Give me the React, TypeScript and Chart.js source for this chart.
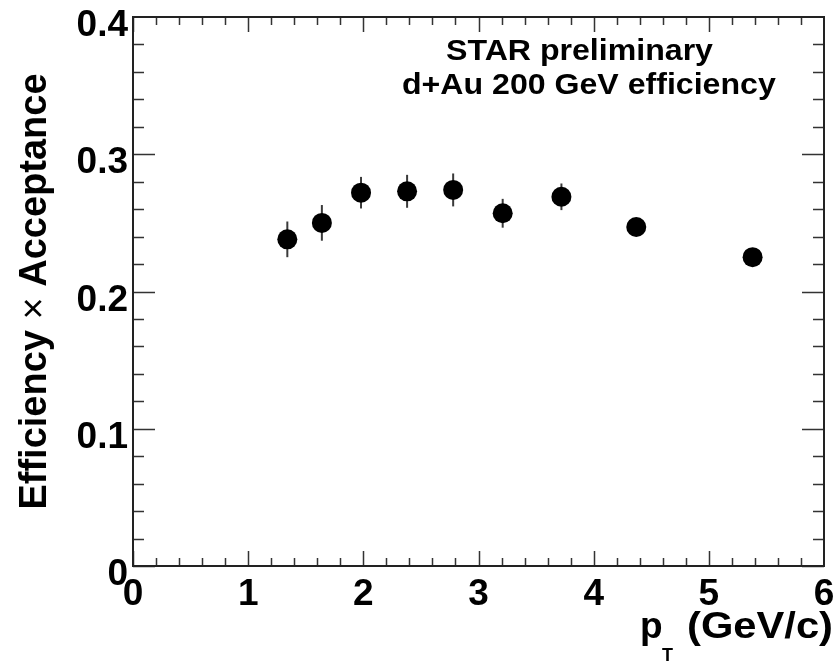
import React, { useEffect, useRef } from 'react';
import { Chart, registerables } from 'chart.js';

Chart.register(...registerables);

// ---- data ----
const ptValues = [1.34, 1.64, 1.98, 2.38, 2.78, 3.21, 3.72, 4.37, 5.38];
const effValues = [0.238, 0.250, 0.272, 0.273, 0.274, 0.257, 0.269, 0.247, 0.225];
const effErrors = [0.013, 0.013, 0.0115, 0.012, 0.012, 0.0105, 0.0097, 0.006, 0.005];

const xTickValues = [0, 1, 2, 3, 4, 5, 6];
const yTickValues = [0, 0.1, 0.2, 0.3, 0.4];
const xMinorDivisions = 5;
const yMinorDivisions = 5;

const annotationLines = ['STAR preliminary', 'd+Au 200 GeV efficiency'];
const yTitleParts = ['Efficiency ', '\u00d7', ' Acceptance'];
const xTitleMain = 'p';
const xTitleSub = 'T';
const xTitleUnit = '(GeV/c)';

const FONT = "'Liberation Sans', Arial, Helvetica, sans-serif";

const errorBarPlugin = {
  id: 'errorBars',
  beforeDatasetsDraw(chart: any) {
    const xs = chart.scales.x;
    const ys = chart.scales.y;
    const ctx = chart.ctx;
    ctx.save();
    ctx.strokeStyle = '#3a3a3a';
    ctx.lineWidth = 2;
    for (let i = 0; i < ptValues.length; i++) {
      const x = xs.getPixelForValue(ptValues[i]);
      const y1 = ys.getPixelForValue(effValues[i] - effErrors[i]);
      const y2 = ys.getPixelForValue(effValues[i] + effErrors[i]);
      ctx.beginPath();
      ctx.moveTo(x, y1);
      ctx.lineTo(x, y2);
      ctx.stroke();
    }
    ctx.restore();
  },
};

const framePlugin = {
  id: 'frameTicks',
  afterDatasetsDraw(chart: any) {
    const { ctx, chartArea } = chart;
    const xs = chart.scales.x;
    const ys = chart.scales.y;
    const { left, right, top, bottom } = chartArea;
    ctx.save();
    ctx.strokeStyle = '#333';
    ctx.lineWidth = 1.5;
    const xMajorLen = 15, xMinorLen = 8, yMajorLen = 22, yMinorLen = 11;
    for (let k = 0; k < xTickValues.length - 1; k++) {
      const a = xTickValues[k], b = xTickValues[k + 1];
      for (let j = 0; j < xMinorDivisions; j++) {
        const v = a + ((b - a) * j) / xMinorDivisions;
        const px = Math.round(xs.getPixelForValue(v)) + 0.5;
        const len = j === 0 ? xMajorLen : xMinorLen;
        ctx.beginPath();
        ctx.moveTo(px, bottom);
        ctx.lineTo(px, bottom - len);
        ctx.moveTo(px, top);
        ctx.lineTo(px, top + len);
        ctx.stroke();
      }
    }
    for (let k = 0; k < yTickValues.length - 1; k++) {
      const a = yTickValues[k], b = yTickValues[k + 1];
      for (let j = 0; j < yMinorDivisions; j++) {
        const v = a + ((b - a) * j) / yMinorDivisions;
        const py = Math.round(ys.getPixelForValue(v)) + 0.5;
        const len = j === 0 ? yMajorLen : yMinorLen;
        ctx.beginPath();
        ctx.moveTo(left, py);
        ctx.lineTo(left + len, py);
        ctx.moveTo(right, py);
        ctx.lineTo(right - len, py);
        ctx.stroke();
      }
    }
    ctx.strokeStyle = '#222';
    ctx.lineWidth = 2;
    ctx.strokeRect(left, top, right - left, bottom - top);
    ctx.restore();
  },
  afterDraw(chart: any) {
    const { ctx, chartArea } = chart;
    ctx.save();
    ctx.fillStyle = '#000';
    ctx.textBaseline = 'alphabetic';
    // annotation text
    ctx.font = `bold 30px ${FONT}`;
    const annotationLeft = [446, 402];
    const annotationBase = [60, 94];
    annotationLines.forEach((t, i) => {
      ctx.save();
      ctx.translate(annotationLeft[i], annotationBase[i]);
      ctx.scale(1.07, 1);
      ctx.textAlign = 'left';
      ctx.fillText(t, 0, 0);
      ctx.restore();
    });

    // y title (rotated)
    const yFonts = [`bold 38px ${FONT}`, `38px ${FONT}`, `bold 38px ${FONT}`];
    const widths = yTitleParts.map((p, i) => {
      ctx.font = yFonts[i];
      return ctx.measureText(p).width;
    });
    const total = widths.reduce((s, w) => s + w, 0);
    const cy = (chartArea.top + chartArea.bottom) / 2;
    ctx.save();
    ctx.translate(46, cy);
    ctx.rotate(-Math.PI / 2);
    let x0 = -total / 2;
    yTitleParts.forEach((p, i) => {
      ctx.font = yFonts[i];
      ctx.textAlign = 'left';
      ctx.fillText(p, x0, 0);
      x0 += widths[i];
    });
    ctx.restore();

    // x title
    ctx.textAlign = 'left';
    ctx.font = `bold 37px ${FONT}`;
    ctx.fillText(xTitleMain, 640, 638);
    ctx.font = `bold 18px ${FONT}`;
    ctx.fillText(xTitleSub, 662, 661);
    ctx.font = `bold 37px ${FONT}`;
    const uw = ctx.measureText(xTitleUnit).width;
    const unitLeft = 687, unitRight = 833;
    ctx.save();
    ctx.translate(unitLeft, 638);
    ctx.scale((unitRight - unitLeft) / uw, 1);
    ctx.fillText(xTitleUnit, 0, 0);
    ctx.restore();
    ctx.restore();
  },
};

export default function App() {
  const canvasRef = useRef<HTMLCanvasElement | null>(null);

  useEffect(() => {
    const canvas = canvasRef.current;
    if (!canvas) return;
    const tickFont = { family: FONT, weight: 'bold' as const, size: 37 };
    const chart = new Chart(canvas, {
      type: 'scatter',
      data: {
        datasets: [
          {
            data: ptValues.map((x, i) => ({ x, y: effValues[i] })),
            backgroundColor: '#000',
            borderColor: '#000',
            borderWidth: 0,
            pointRadius: 10,
            pointHoverRadius: 10,
            pointStyle: 'circle',
            showLine: false,
          },
        ],
      },
      options: {
        animation: false,
        responsive: false,
        devicePixelRatio: 1,
        events: [],
        layout: { padding: { top: 17, right: 12, left: 0, bottom: 0 } },
        plugins: {
          legend: { display: false },
          tooltip: { enabled: false },
          title: { display: false },
        },
        scales: {
          x: {
            type: 'linear',
            min: 0,
            max: 6,
            afterBuildTicks: (s: any) => {
              s.ticks = xTickValues.map((v) => ({ value: v }));
            },
            grid: { display: false, drawTicks: false },
            border: { display: false },
            ticks: {
              font: tickFont,
              color: '#000',
              padding: 7,
              maxRotation: 0,
              autoSkip: false,
              callback: (v: any) => String(v),
            },
            afterFit: (s: any) => {
              s.height = 95;
              s.paddingLeft = 0;
              s.paddingRight = 0;
            },
          },
          y: {
            type: 'linear',
            min: 0,
            max: 0.4,
            afterBuildTicks: (s: any) => {
              s.ticks = yTickValues.map((v) => ({ value: v }));
            },
            grid: { display: false, drawTicks: false },
            border: { display: false },
            ticks: {
              font: tickFont,
              color: '#000',
              padding: 5,
              labelOffset: 9,
              autoSkip: false,
              callback: (v: any) => (Number(v) === 0 ? '0' : Number(v).toFixed(1)),
            },
            afterFit: (s: any) => {
              s.width = 133;
              s.paddingTop = 0;
              s.paddingBottom = 0;
            },
          },
        },
      },
      plugins: [errorBarPlugin, framePlugin],
    });
    return () => chart.destroy();
  }, []);

  return (
    <div style={{ position: 'absolute', left: 0, top: 0, width: 836, height: 661, background: '#fff' }}>
      <canvas ref={canvasRef} width={836} height={661} style={{ display: 'block', width: 836, height: 661 }} />
    </div>
  );
}
